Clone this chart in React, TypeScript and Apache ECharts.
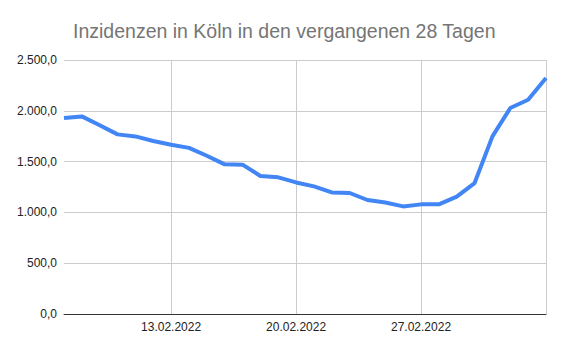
import React, { useEffect, useRef } from "react";
import * as echarts from "echarts";

const dates = [
  "07.02.2022", "08.02.2022", "09.02.2022", "10.02.2022", "11.02.2022", "12.02.2022", "13.02.2022",
  "14.02.2022", "15.02.2022", "16.02.2022", "17.02.2022", "18.02.2022", "19.02.2022", "20.02.2022",
  "21.02.2022", "22.02.2022", "23.02.2022", "24.02.2022", "25.02.2022", "26.02.2022", "27.02.2022",
  "28.02.2022", "01.03.2022", "02.03.2022", "03.03.2022", "04.03.2022", "05.03.2022", "06.03.2022",
];

const incidence = [
  1929, 1945, 1858, 1768, 1748, 1703, 1666,
  1635, 1558, 1473, 1470, 1358, 1345, 1295,
  1256, 1197, 1191, 1122, 1098, 1059, 1079,
  1079, 1155, 1289, 1748, 2028, 2109, 2323,
];

const labelIndices = [6, 13, 20];
const gridIndices = [6, 13, 20, 27];

function formatDe(v: number): string {
  const s = v.toFixed(1);
  const [intPart, dec] = s.split(".");
  const withDots = intPart.replace(/\B(?=(\d{3})+(?!\d))/g, ".");
  return withDots + "," + dec;
}

export default function App() {
  const ref = useRef<HTMLDivElement>(null);
  useEffect(() => {
    if (!ref.current) return;
    const chart = echarts.init(ref.current, undefined, { renderer: "svg" });
    chart.setOption({
      animation: false,
      backgroundColor: "#ffffff",
      title: {
        text: "Inzidenzen in Köln in den vergangenen 28 Tagen",
        left: 68,
        top: 16,
        textStyle: {
          fontFamily: "Liberation Sans, Arial, sans-serif",
          fontSize: 19.5,
          fontWeight: "normal",
          color: "#757575",
        },
      },
      grid: { left: 64, right: 18, top: 60, bottom: 38 },
      xAxis: {
        type: "category",
        data: dates,
        boundaryGap: false,
        axisLine: { show: true, lineStyle: { color: "#333333", width: 1 } },
        axisTick: { show: false },
        axisLabel: {
          interval: (i: number) => labelIndices.includes(i),
          color: "#222222",
          fontFamily: "Liberation Sans, Arial, sans-serif",
          fontSize: 12,
          margin: 7,
        },
        splitLine: {
          show: true,
          interval: (i: number) => gridIndices.includes(i),
          lineStyle: { color: "#cccccc", width: 1 },
        },
      },
      yAxis: {
        type: "value",
        min: 0,
        max: 2500,
        interval: 500,
        axisLine: { show: false },
        axisTick: { show: false },
        axisLabel: {
          formatter: (v: number) => formatDe(v),
          color: "#222222",
          fontFamily: "Liberation Sans, Arial, sans-serif",
          fontSize: 12,
          margin: 7,
        },
        splitLine: { lineStyle: { color: "#cccccc", width: 1 } },
      },
      series: [
        {
          type: "line",
          data: incidence,
          showSymbol: false,
          symbol: "none",
          lineStyle: { color: "#4285f4", width: 4 },
          itemStyle: { color: "#4285f4" },
        },
      ],
    });
    return () => chart.dispose();
  }, []);
  return <div ref={ref} style={{ width: 564, height: 352, position: "absolute", left: 0, top: 0 }} />;
}
